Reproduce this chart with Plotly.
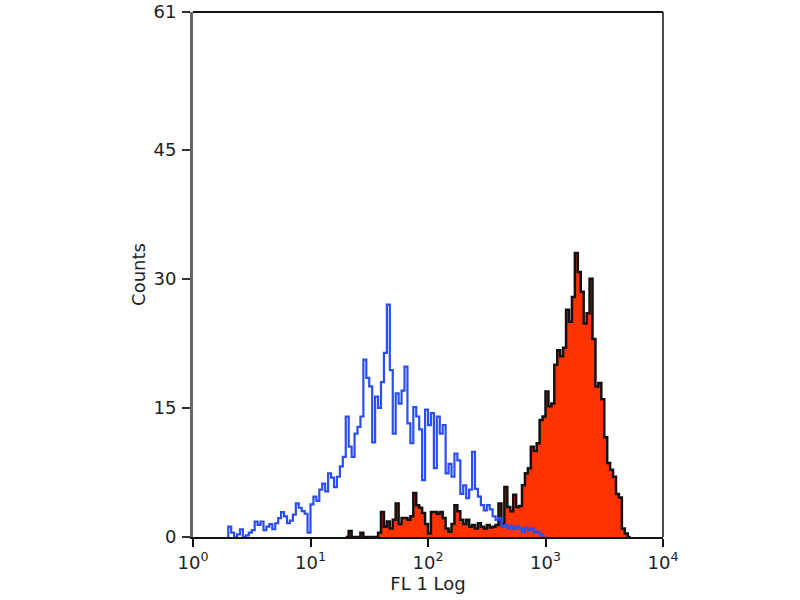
import plotly.graph_objects as go

# Histogram channels: 40 channels per decade on the FL1 log scale
CH_PER_DECADE = 40

blue_start_channel = 12
blue_counts = [
    1.2, 0.5, 0.0, 0.3, 0.9, 0.0, 0.2, 0.5, 0.8, 1.8,
    1.4, 1.8, 0.8, 1.2, 1.5, 0.9, 1.6, 2.2, 2.9, 2.4,
    1.6, 1.9, 2.6, 3.9, 3.4, 3.0, 2.7, 0.5, 3.8, 4.7,
    4.2, 5.5, 6.2, 5.3, 7.4, 6.9, 5.8, 7.0, 8.2, 9.3,
    14.0, 10.5, 9.3, 12.0, 12.8, 14.0, 20.6, 18.5, 17.5, 11.0,
    16.3, 15.0, 18.0, 21.4, 27.0, 19.4, 12.0, 16.7, 15.5, 17.0,
    19.8, 13.2, 10.9, 15.1, 14.0, 12.5, 6.6, 14.8, 13.0, 14.4,
    8.0, 14.0, 12.0, 13.0, 7.4, 8.5, 7.0, 9.7, 8.9, 5.0,
    6.0, 4.5, 5.5, 9.9, 5.6, 4.7, 3.7, 3.1, 3.7, 3.2,
    2.4, 2.0, 2.2, 1.2, 1.4, 1.0, 1.3, 0.9, 1.2, 1.0,
    0.6, 1.1, 0.8, 1.0, 0.5, 0.6, 0.3, 0.0,
]

red_start_channel = 52
red_counts = [
    0.0, 0.7, 0.0, 0.0, 0.0, 0.5, 0.0, 0.0, 0.0, 0.0,
    0.0, 0.5, 2.9, 1.2, 1.8, 1.0, 2.0, 3.9, 1.5, 2.2,
    2.2, 2.0, 2.4, 5.1, 3.7, 3.4, 2.8, 1.5, 0.4, 2.9,
    2.9, 2.7, 2.9, 2.2, 1.0, 0.6, 1.5, 3.7, 3.0, 2.0,
    1.5, 2.0, 1.2, 1.4, 1.0, 1.6, 1.2, 1.0, 1.4, 1.1,
    1.2, 1.4, 3.9, 1.5, 5.8, 3.5, 3.0, 4.9, 3.5, 3.6,
    6.0, 7.4, 8.0, 10.5, 10.0, 10.9, 13.6, 14.0, 16.9, 15.2,
    15.5, 20.0, 21.7, 21.0, 22.0, 26.4, 25.0, 27.9, 33.0, 30.8,
    28.5, 24.8, 26.0, 30.0, 23.0, 17.5, 17.9, 16.0, 11.6, 8.6,
    7.8, 7.0, 5.0, 4.6, 1.0, 0.4, 0.0,
]

x_tick_vals = [1, 10, 100, 1000, 10000]
x_tick_text = ["10<sup>0</sup>", "10<sup>1</sup>", "10<sup>2</sup>",
               "10<sup>3</sup>", "10<sup>4</sup>"]
y_tick_vals = [0, 15, 30, 45, 61]


def step_xy(start_channel, counts):
    xs, ys = [10 ** (start_channel / CH_PER_DECADE)], [0]
    for i, c in enumerate(counts):
        lo = 10 ** ((start_channel + i) / CH_PER_DECADE)
        hi = 10 ** ((start_channel + i + 1) / CH_PER_DECADE)
        xs += [lo, hi]
        ys += [c, c]
    xs.append(xs[-1])
    ys.append(0)
    return xs, ys


fig = go.Figure()

rx, ry = step_xy(red_start_channel, red_counts)
fig.add_trace(go.Scatter(x=rx, y=ry, mode="lines", fill="tozeroy",
                         fillcolor="#ff3300",
                         line=dict(color="#111111", width=2.5),
                         hoverinfo="skip", showlegend=False))

bx, by = step_xy(blue_start_channel, blue_counts)
fig.add_trace(go.Scatter(x=bx, y=by, mode="lines",
                         line=dict(color="#2a4ef0", width=2.2),
                         hoverinfo="skip", showlegend=False))

font = dict(family="DejaVu Sans, sans-serif", size=18, color="#222222")

fig.update_layout(
    width=800, height=600,
    margin=dict(l=193, r=137, t=12, b=63),
    paper_bgcolor="white", plot_bgcolor="white",
    font=font,
    xaxis=dict(type="log", range=[0, 4], tickvals=x_tick_vals, ticktext=x_tick_text,
               ticks="outside", ticklen=8, tickwidth=2, tickcolor="#111",
               showline=True, linecolor="#111", linewidth=2, showgrid=False,
               zeroline=False, automargin=False, tickfont=font,
               ticklabeloverflow="allow",
               title=dict(text="FL 1 Log", font=font, standoff=2)),
    yaxis=dict(range=[0, 61], tickvals=y_tick_vals, ticks="outside", ticklen=8,
               tickwidth=2, tickcolor="#333", showline=True, linecolor="#666",
               linewidth=3, showgrid=False, zeroline=False, automargin=False,
               tickfont=font, ticklabelstandoff=2, ticklabeloverflow="allow",
               title=dict(text="Counts", font=font, standoff=4)),
    shapes=[
        dict(type="line", xref="paper", yref="paper", x0=0, x1=1, y0=1, y1=1,
             line=dict(color="#111", width=2)),
        dict(type="line", xref="paper", yref="paper", x0=1, x1=1, y0=0, y1=1,
             line=dict(color="#111", width=1.5)),
    ],
)

fig.write_html("out.html", config={"displayModeBar": False},
               post_script="document.body.style.margin='0';")
